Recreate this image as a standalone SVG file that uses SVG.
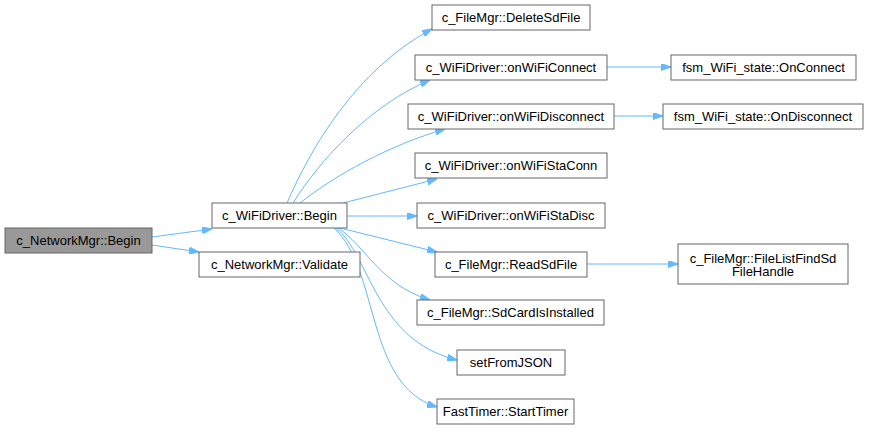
<svg xmlns="http://www.w3.org/2000/svg" width="869" height="431" viewBox="0 0 869 431">
<defs>
<style>
.n rect{fill:#fff;stroke:#666;stroke-width:1}
.root rect{fill:#999}
text{font-family:"Liberation Sans",Arial,sans-serif;font-size:13px;fill:#000;text-anchor:middle}
.e path{fill:none;stroke:#63b8ff;stroke-width:1}
</style>
<marker id="a" viewBox="0 0 10 7" refX="10" refY="3.5" markerWidth="10" markerHeight="7" markerUnits="userSpaceOnUse" orient="auto">
<path d="M0,0 L10,3.5 L0,7 Z" fill="#63b8ff" stroke="#63b8ff"/>
</marker>
</defs>
<rect width="869" height="431" fill="#fff"/>
<g id="edges" class="e">
<path d="M152,237 L212,229" marker-end="url(#a)"/>
<path d="M152,245 L199,252" marker-end="url(#a)"/>
<path d="M287,203 C310,150 355,70 432,29" marker-end="url(#a)"/>
<path d="M293,203 C320,160 370,105 430,80" marker-end="url(#a)"/>
<path d="M300,203 C335,175 390,145 445,129" marker-end="url(#a)"/>
<path d="M343,203 L437,179" marker-end="url(#a)"/>
<path d="M347,216 L417,216" marker-end="url(#a)"/>
<path d="M340,228 L437,252" marker-end="url(#a)"/>
<path d="M338,228 C365,245 380,285 430,300" marker-end="url(#a)"/>
<path d="M336,228 C370,255 375,340 457,360" marker-end="url(#a)"/>
<path d="M334,228 C380,270 365,385 437,407" marker-end="url(#a)"/>
<path d="M607,67 L671,67" marker-end="url(#a)"/>
<path d="M614,116 L663,116" marker-end="url(#a)"/>
<path d="M587,264 L678,264" marker-end="url(#a)"/>
</g>
<g id="n_netbegin" class="n root"><rect x="5" y="228" width="147" height="25"/><text x="78.5" y="245">c_NetworkMgr::Begin</text></g>
<g id="n_wifibegin" class="n"><rect x="212" y="203" width="135" height="25"/><text x="279.5" y="220">c_WiFiDriver::Begin</text></g>
<g id="n_validate" class="n"><rect x="199" y="252" width="161" height="25"/><text x="279.5" y="269">c_NetworkMgr::Validate</text></g>
<g id="n_delete" class="n"><rect x="432" y="5" width="158" height="25"/><text x="511" y="22">c_FileMgr::DeleteSdFile</text></g>
<g id="n_onconn" class="n"><rect x="415" y="55" width="192" height="25"/><text x="511" y="72">c_WiFiDriver::onWiFiConnect</text></g>
<g id="n_ondisc" class="n"><rect x="408" y="104" width="206" height="25"/><text x="511" y="121">c_WiFiDriver::onWiFiDisconnect</text></g>
<g id="n_staconn" class="n"><rect x="415" y="153" width="192" height="25"/><text x="511" y="170">c_WiFiDriver::onWiFiStaConn</text></g>
<g id="n_stadisc" class="n"><rect x="417" y="203" width="188" height="25"/><text x="511" y="220">c_WiFiDriver::onWiFiStaDisc</text></g>
<g id="n_read" class="n"><rect x="435" y="252" width="152" height="25"/><text x="511" y="269">c_FileMgr::ReadSdFile</text></g>
<g id="n_sdcard" class="n"><rect x="417" y="300" width="187" height="25"/><text x="510.5" y="317">c_FileMgr::SdCardIsInstalled</text></g>
<g id="n_json" class="n"><rect x="457" y="350" width="108" height="25"/><text x="511" y="367">setFromJSON</text></g>
<g id="n_timer" class="n"><rect x="437" y="399" width="137" height="25"/><text x="505.5" y="416">FastTimer::StartTimer</text></g>
<g id="n_fsmconn" class="n"><rect x="671" y="55" width="185" height="25"/><text x="763.5" y="72">fsm_WiFi_state::OnConnect</text></g>
<g id="n_fsmdisc" class="n"><rect x="663" y="104" width="200" height="25"/><text x="763" y="121">fsm_WiFi_state::OnDisconnect</text></g>
<g id="n_findsd" class="n"><rect x="678" y="244" width="170" height="40"/><text x="763" y="262.5">c_FileMgr::FileListFindSd</text><text x="763" y="276">FileHandle</text></g>
</svg>
